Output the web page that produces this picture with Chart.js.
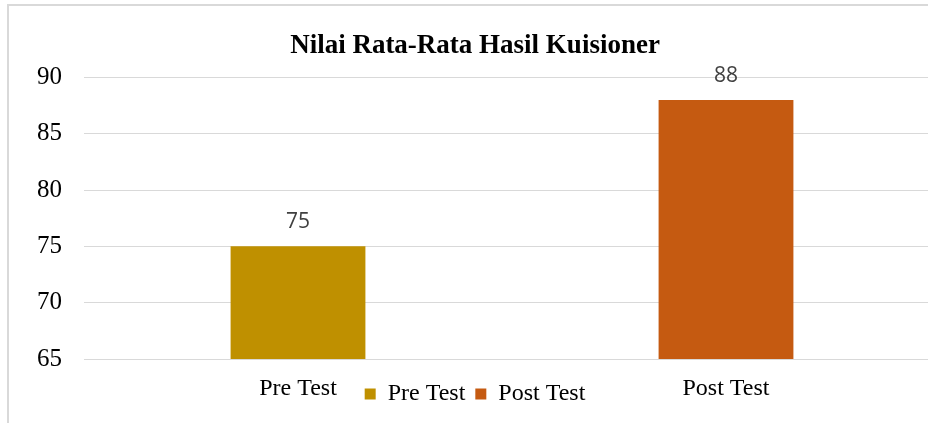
<!DOCTYPE html>
<html>
<head>
<meta charset="utf-8">
<script src="https://cdn.jsdelivr.net/npm/chart.js@4.4.0/dist/chart.umd.min.js"></script>
<style>
  html, body { margin: 0; padding: 0; background: #fff; overflow: hidden; width: 928px; height: 423px; }
  #frame { position: absolute; left: 7px; top: 4px; width: 980px; height: 480px; border: 2px solid #d9d9d9; box-sizing: border-box; }
  #c { position: absolute; left: 0; top: 0; }
</style>
</head>
<body>
<div id="frame"></div>
<canvas id="c" width="950" height="423"></canvas>
<script>
// ── data ──────────────────────────────────────────────
const categories = ["Pre Test", "Post Test"];
const scores = [75, 88];
const barColors = ["#BF9000", "#C55A11"];
const yTicks = { min: 65, max: 90, step: 5 };

const serif = "'Liberation Serif', 'Times New Roman', serif";

// value labels above each bar
const valueLabels = {
  id: "valueLabels",
  afterDatasetsDraw(chart) {
    const { ctx } = chart;
    const meta = chart.getDatasetMeta(0);
    ctx.save();
    ctx.font = "21px 'Open Sans', Arial, sans-serif";
    ctx.fillStyle = "#404040";
    ctx.textAlign = "center";
    ctx.textBaseline = "middle";
    meta.data.forEach((bar, i) => {
      ctx.fillText(String(scores[i]), bar.x, bar.y - 24);
    });
    ctx.restore();
  }
};

// x labels share a row with the legend: let the short x-axis box draw past its bottom
const unclipX = {
  id: "unclipX",
  afterLayout(chart) { chart.scales.x.bottom = chart.height; }
};

new Chart(document.getElementById("c"), {
  type: "bar",
  data: {
    labels: categories,
    datasets: [{ data: scores, backgroundColor: barColors, borderWidth: 0, barPercentage: 0.315, categoryPercentage: 1 }]
  },
  options: {
    responsive: false, animation: false, devicePixelRatio: 1,
    layout: { padding: { top: 0, left: 10, right: 10, bottom: 7 } },
    plugins: {
      title: {
        display: true, text: "Nilai Rata-Rata Hasil Kuisioner", color: "#000",
        font: { family: serif, size: 27, weight: "bold" }, padding: { top: 30, bottom: 15 }
      },
      legend: {
        position: "bottom",
        labels: {
          color: "#000", font: { family: serif, size: 24 }, boxWidth: 11, boxHeight: 11, padding: 10,
          generateLabels: () => categories.map((c, i) => ({
            text: c, fillStyle: barColors[i], strokeStyle: barColors[i], lineWidth: 0, hidden: false, index: i
          }))
        }
      },
      tooltip: { enabled: false }
    },
    scales: {
      x: {
        grid: { display: false }, border: { display: false },
        ticks: { color: "#000", font: { family: serif, size: 24 }, padding: 7 },
        afterFit: s => { s.height = 13; }
      },
      y: {
        min: yTicks.min, max: yTicks.max,
        grid: { color: "#d9d9d9", lineWidth: 1, drawTicks: false }, border: { display: false },
        ticks: { stepSize: yTicks.step, color: "#000", font: { family: serif, size: 25 }, padding: 22 },
        afterFit: s => { s.width = 74; }
      }
    }
  },
  plugins: [valueLabels, unclipX]
});
</script>
</body>
</html>
